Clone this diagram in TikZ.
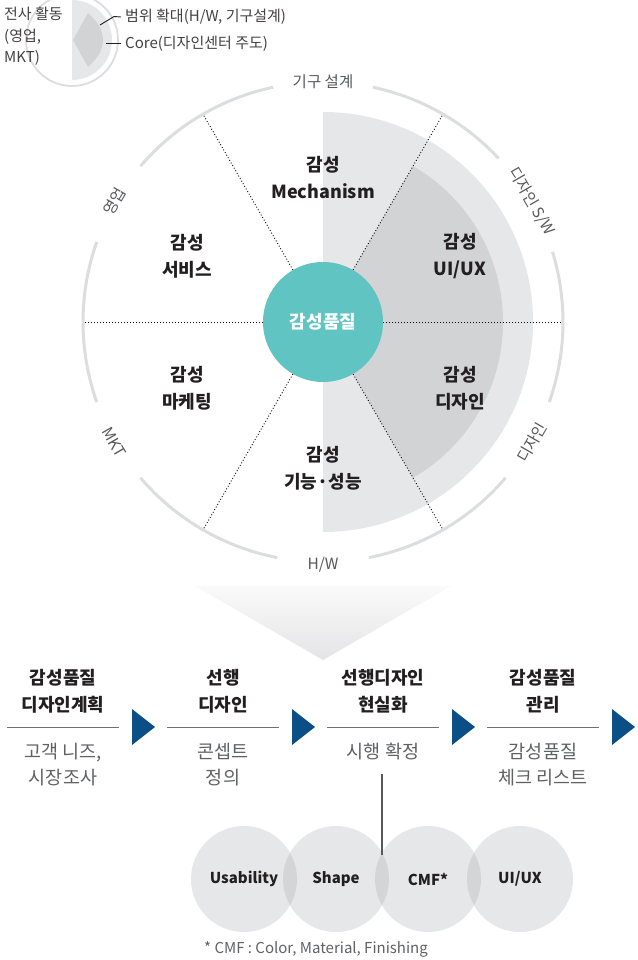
\documentclass[tikz,border=0pt]{standalone}
\usepackage{fontspec}
\setmainfont{Noto Sans CJK KR}
\usetikzlibrary{calc}
\definecolor{headc}{HTML}{231F20}
\definecolor{subc}{HTML}{606163}
\definecolor{labc}{HTML}{58595B}
\definecolor{ringc}{HTML}{DCDDDE}
\definecolor{lightg}{HTML}{E6E7E8}
\definecolor{darkg}{HTML}{D1D3D4}
\definecolor{tealc}{HTML}{5FC4C2}
\definecolor{arrowc}{HTML}{0B4F86}
\definecolor{linec}{HTML}{6D6E71}
\definecolor{lensc}{HTML}{D4D5D7}
\definecolor{tritop}{HTML}{FAFAFA}
\definecolor{tribot}{HTML}{E4E4E6}
\tikzset{
  secl/.style={font=\bfseries\fontsize{18}{27}\selectfont, text=headc, align=center, inner sep=0},
  ringl/.style={font=\fontsize{15.5}{18}\selectfont, text=labc, inner sep=0},
  headl/.style={font=\bfseries\fontsize{18}{27}\selectfont, text=headc, align=center, inner sep=0},
  subl/.style={font=\fontsize{18.5}{26}\selectfont, text=subc, align=center, inner sep=0},
  circl/.style={circle, minimum size=106pt, inner sep=0, fill=lightg, font=\bfseries\fontsize{15}{18}\selectfont, text=headc},
  iconl/.style={font=\fontsize{15}{21.5}\selectfont, text=headc!85, inner sep=0},
  dotline/.style={line width=0.9pt, dash pattern=on 0.9pt off 2.1pt, black},
  ringline/.style={ringc, line width=3pt},
  rule/.style={linec, line width=1.4pt},
  leader/.style={headc, line width=0.9pt},
  arrowtri/.style={fill=arrowc}
}
\begin{document}
\begin{tikzpicture}[x=1pt,y=1pt]
\useasboundingbox (0,0) rectangle (637,-960);
\fill[white] (0,0) rectangle (637,-960);

% ---------- small icon ----------
\coordinate (IC) at (72,-40);
\draw[ringc, line width=1.8pt] (IC) circle (46);
\fill[lightg] (IC) ++(90:40) arc[start angle=90, end angle=-90, radius=40] -- cycle;
\fill[darkg] (73,-40) -- (88,-13) .. controls (97,-21) and (103,-30) .. (103,-40)
   .. controls (103,-50) and (97,-59) .. (88,-67) -- cycle;
\node[iconl, align=left, anchor=west] (tl) at (4,-36.5) {전사 활동\\(영업,\\MKT)};
\node[iconl, anchor=west] (ta) at (125,-17) {범위 확대(H/W, 기구설계)};
\node[iconl, anchor=west] (tb) at (125,-44) {Core(디자인센터 주도)};
\coordinate (la) at (100,-25);
\coordinate (lb) at (114,-16.5);
\coordinate (lc) at (106,-43.5);
\draw[leader] (la) -- (lb) -- ([xshift=-4pt]ta.west);
\draw[leader] (lc) -- ([xshift=-4pt]tb.west |- lc);

% ---------- main circle ----------
\coordinate (C) at (323,-322);
\fill[lightg] (C) ++(90:210) arc[start angle=90, end angle=-90, radius=210] -- cycle;
\fill[darkg] (C) -- ++(60:180) arc[start angle=60, end angle=-60, radius=180] -- cycle;

\draw[ringline] (C) ++(102:240) arc[start angle=102, end angle=139.5, radius=240];
\draw[ringline] (C) ++(160.5:240) arc[start angle=160.5, end angle=199.5, radius=240];
\draw[ringline] (C) ++(220.5:240) arc[start angle=220.5, end angle=259, radius=240];
\draw[ringline] (C) ++(281:240) arc[start angle=281, end angle=319.5, radius=240];
\draw[ringline] (C) ++(340.5:240) arc[start angle=340.5, end angle=377, radius=240];
\draw[ringline] (C) ++(43:240) arc[start angle=43, end angle=78, radius=240];

\node[circle, fill=tealc, minimum size=120pt, inner sep=0, text=white,
      font=\bfseries\fontsize{18}{22}\selectfont] (ctr) at (C) {감성품질};
\foreach \a in {0,60,...,300}
  \draw[dotline] (ctr.\a) -- ($(C)+(\a:238)$);

% ring labels
\node[ringl] (r1) at ($(C)+(90:240)$) {기구 설계};
\node[ringl, rotate=-60] (r2) at ($(C)+(30:241)$) {디자인 S/W};
\node[ringl, rotate=60] (r3) at ($(C)+(-30:241)$) {디자인};
\node[ringl] (r4) at ($(C)+(270:243)$) {H/W};
\node[ringl, rotate=-60] (r5) at ($(C)+(210:241)$) {MKT};
\node[ringl, rotate=60] (r6) at ($(C)+(150:241)$) {영업};

% sector labels
\node[secl] (s1) at (323,-178) {감성\\Mechanism};
\node[secl] (s2) at (187,-256) {감성\\서비스};
\node[secl] (s3) at (460,-256) {감성\\UI/UX};
\node[secl] (s4) at (187,-388) {감성\\마케팅};
\node[secl] (s5) at (460,-388) {감성\\디자인};
\node[secl] (s6) at (323,-468) {감성\\기능·성능};

% ---------- funnel ----------
\shade[top color=tritop, bottom color=tribot] (195,-586) -- (451,-586) -- (323,-660) -- cycle;

% ---------- process steps ----------
\node[headl] (h1) at (63,-691.5) {감성품질\\디자인계획};
\node[headl] (h2) at (223,-691.5) {선행\\디자인};
\node[headl] (h3) at (383,-691.5) {선행디자인\\현실화};
\node[headl] (h4) at (543,-691.5) {감성품질\\관리};
\foreach \c in {63,223,383,543} {
  \draw[rule] (\c-56,-727.5) -- (\c+56,-727.5);
  \fill[arrowtri] (\c+69,-709) -- (\c+92,-727) -- (\c+69,-745) -- cycle;
}
\node[subl] (b1) at (63,-765) {고객 니즈,\\시장조사};
\node[subl] (b2) at (223,-765) {콘셉트\\정의};
\node[subl] (b3) at (383,-752) {시행 확정};
\node[subl] (b4) at (543,-765) {감성품질\\체크 리스트};

% ---------- circles ----------
\node[circl] (v1) at (244,-879) {Usability};
\node[circl] (v2) at (336,-879) {Shape};
\node[circl] (v3) at (428,-879) {CMF*};
\node[circl] (v4) at (520,-879) {UI/UX};
\begin{scope}
  \clip (244,-879) circle (53);
  \fill[lensc] (336,-879) circle (53);
\end{scope}
\begin{scope}
  \clip (336,-879) circle (53);
  \fill[lensc] (428,-879) circle (53);
\end{scope}
\begin{scope}
  \clip (428,-879) circle (53);
  \fill[lensc] (520,-879) circle (53);
\end{scope}
\coordinate (lens) at (382,-855);
\draw[linec!80!black, line width=1.3pt] ([yshift=-13pt]b3.south -| lens) -- (lens);

\node[font=\fontsize{15}{18}\selectfont, text=subc, anchor=west, inner sep=0] (fn) at (204,-949) {* CMF : Color, Material, Finishing};
\end{tikzpicture}
\end{document}
